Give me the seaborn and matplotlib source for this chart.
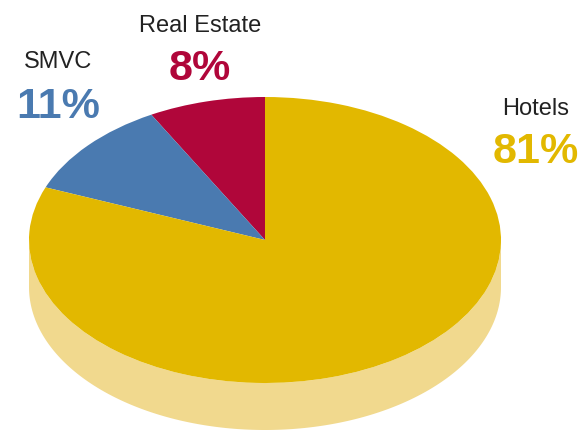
import numpy as np
import matplotlib
matplotlib.use("Agg")
import matplotlib.pyplot as plt
from matplotlib.patches import Wedge, Polygon
from matplotlib.transforms import Affine2D
import seaborn as sns

# Portfolio split
categories = ["Real Estate", "SMVC", "Hotels"]
shares = [8, 11, 81]
pct_labels = ["8%", "11%", "81%"]

sns.set_theme(style="white")
plt.rcParams["font.family"] = ["Liberation Sans", "DejaVu Sans"]

top_colors = sns.color_palette(["#B0063A", "#4A7AB0", "#E2B800"])
side_color = "#F1D98E"

W, H = 581, 433
fig = plt.figure(figsize=(W / 100, H / 100), dpi=100)
ax = fig.add_axes([0, 0, 1, 1])
ax.set_xlim(0, W)
ax.set_ylim(0, H)
ax.axis("off")

# Ellipse geometry of the tilted disc (pixel units, y up)
cx, cy = 265, H - 240
rx, ry = 236, 143
depth = 47

# Side band of the disc (front half only)
th = np.linspace(np.pi, 2 * np.pi, 200)
top_edge = np.column_stack([cx + rx * np.cos(th), cy + ry * np.sin(th)])
bot_edge = np.column_stack([cx + rx * np.cos(th[::-1]), cy - depth + ry * np.sin(th[::-1])])
ax.add_patch(Polygon(np.vstack([top_edge, bot_edge]), closed=True,
                     facecolor=side_color, edgecolor="none"))

# Top face slices, counter-clockwise from 12 o'clock
squash = Affine2D().scale(rx, ry).translate(cx, cy) + ax.transData
start = 90.0
for share, col in zip(shares, top_colors):
    sweep = share / sum(shares) * 360.0
    w = Wedge((0, 0), 1.0, start, start + sweep, facecolor=col, edgecolor="none")
    w.set_transform(squash)
    ax.add_patch(w)
    start += sweep

# Labels: name above, bold percentage below
label_pos = {
    "Real Estate": (200, 32, 80),
    "SMVC": (58, 68, 118),
    "Hotels": (536, 115, 163),
}
for name, pct, col in zip(categories, pct_labels, top_colors):
    x, y_name, y_pct = label_pos[name]
    ax.text(x, H - y_name, name, ha="center", va="baseline",
            fontsize=17, color="#222222")
    ax.text(x, H - y_pct, pct, ha="center", va="baseline",
            fontsize=31, fontweight="bold", color=col)

fig.savefig("out.png", dpi=100)
